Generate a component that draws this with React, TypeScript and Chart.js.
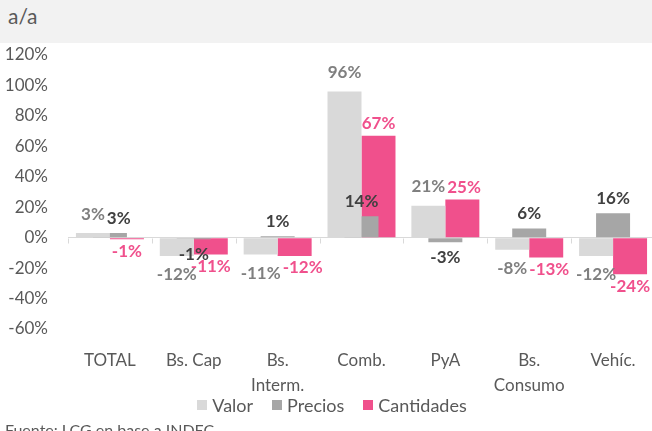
import React, { useEffect, useRef } from "react";
import { Chart, registerables } from "chart.js";

Chart.register(...registerables);

// ---- data ----
const categories: (string | string[])[] = [
  "TOTAL",
  "Bs. Cap",
  ["Bs.", "Interm."],
  "Comb.",
  "PyA",
  ["Bs.", "Consumo"],
  "Vehíc.",
];
const seriesNames = ["Valor", "Precios", "Cantidades"];
const valor = [3, -12, -11, 96, 21, -8, -12];
const precios = [3, -1, 1, 14, -3, 6, 16];
const cantidades = [-1, -11, -12, 67, 25, -13, -24];
const yMin = -60;
const yMax = 120;
const yStep = 20;
const headerText = "a/a";
const sourceText = "Fuente: LCG en base a INDEC";

// ---- styles ----
const FONT = "Lato, 'Open Sans', sans-serif";
const BAR_COLORS = ["#D9D9D9", "#A6A6A6", "#F0508C"];
const LABEL_COLORS = ["#7F7F7F", "#404040", "#F0508C"];
const LABEL_OFFSETS = [19, 15, 12];
const TEXT_COLOR = "#595959";

const barLabels = {
  id: "barLabels",
  afterDatasetsDraw(chart: any) {
    const ctx = chart.ctx;
    ctx.save();
    ctx.font = `bold 17px ${FONT}`;
    ctx.textAlign = "center";
    ctx.textBaseline = "middle";
    const n = chart.data.labels.length;
    for (let i = 0; i < n; i++) {
      const placed: { x: number; y: number; w: number }[] = [];
      chart.data.datasets.forEach((ds: any, di: number) => {
        const el = chart.getDatasetMeta(di).data[i];
        const v = ds.data[i];
        const text = `${v}%`;
        const w = ctx.measureText(text).width;
        const h = 16;
        const off = LABEL_OFFSETS[di];
        let x = el.x;
        const y = v >= 0 ? el.y - off : el.y + off;
        for (const p of placed) {
          const vOverlap = Math.min(y + h / 2, p.y + h / 2) - Math.max(y - h / 2, p.y - h / 2);
          if (vOverlap >= 8 && x - w / 2 < p.x + p.w / 2 + 2 && x + w / 2 > p.x - p.w / 2) {
            x = p.x + p.w / 2 + 2 + w / 2;
          }
        }
        ctx.fillStyle = LABEL_COLORS[di];
        ctx.fillText(text, x, y);
        placed.push({ x, y, w });
      });
    }
    ctx.restore();
  },
};

const boundaryTicks = {
  id: "boundaryTicks",
  beforeDatasetsDraw(chart: any) {
    const xs = chart.scales.x;
    const ys = chart.scales.y;
    const ctx = chart.ctx;
    const y0 = Math.round(ys.getPixelForValue(0)) + 0.5;
    const n = chart.data.labels.length;
    const step = n > 1 ? xs.getPixelForValue(1) - xs.getPixelForValue(0) : xs.width;
    ctx.save();
    ctx.strokeStyle = "#D9D9D9";
    ctx.lineWidth = 1;
    ctx.beginPath();
    for (let i = 0; i <= n; i++) {
      const x = Math.round(xs.getPixelForValue(0) - step / 2 + step * i) + 0.5;
      ctx.moveTo(x, y0);
      ctx.lineTo(x, y0 + 5);
    }
    ctx.stroke();
    ctx.restore();
  },
};

function ChartCanvas() {
  const ref = useRef<HTMLCanvasElement | null>(null);
  useEffect(() => {
    if (!ref.current) return;
    const series = [valor, precios, cantidades];
    const chart = new Chart(ref.current, {
      type: "bar",
      data: {
        labels: categories as any,
        datasets: series.map((d, i) => ({
          label: seriesNames[i],
          data: d,
          backgroundColor: BAR_COLORS[i],
          borderWidth: 0,
          categoryPercentage: 0.608,
          barPercentage: 2,
        })),
      },
      options: {
        animation: false,
        responsive: false,
        maintainAspectRatio: false,
        layout: { padding: { top: 12, right: 5, bottom: 22, left: 0 } },
        plugins: {
          legend: { display: false },
          tooltip: { enabled: false },
        },
        scales: {
          x: {
            grid: { display: false, drawTicks: false },
            border: { display: false },
            afterFit: (s: any) => {
              s.height = 80;
            },
            ticks: {
              color: TEXT_COLOR,
              font: { family: FONT, size: 17, lineHeight: 1.47 },
              padding: 19,
              maxRotation: 0,
              autoSkip: false,
            },
          },
          y: {
            min: yMin,
            max: yMax,
            afterFit: (s: any) => {
              s.width = 68;
              s.paddingTop = 0;
              s.paddingBottom = 0;
            },
            grid: {
              color: (c: any) => (c.tick && c.tick.value === 0 ? "#D9D9D9" : "rgba(0,0,0,0)"),
              drawTicks: false,
            },
            border: { display: false },
            ticks: {
              stepSize: yStep,
              color: TEXT_COLOR,
              font: { family: FONT, size: 17 },
              padding: 20,
              callback: (v: any) => `${v}%`,
            },
          },
        },
      },
      plugins: [boundaryTicks, barLabels],
    });
    return () => chart.destroy();
  }, []);
  return <canvas ref={ref} width={660} height={388} style={{ display: "block" }} />;
}

function Legend() {
  return (
    <div
      style={{
        position: "absolute",
        top: 393,
        left: 6,
        width: 652,
        height: 24,
        display: "flex",
        justifyContent: "center",
        alignItems: "center",
        fontSize: 18,
        color: TEXT_COLOR,
        whiteSpace: "nowrap",
      }}
    >
      {seriesNames.map((name, i) => (
        <div
          key={name}
          style={{ display: "flex", alignItems: "center", marginLeft: i === 0 ? 0 : 19 }}
        >
          <span
            style={{
              display: "inline-block",
              width: 10,
              height: 10,
              background: BAR_COLORS[i],
              marginRight: 5,
            }}
          />
          <span style={{ lineHeight: "24px" }}>{name}</span>
        </div>
      ))}
    </div>
  );
}

export default function App() {
  return (
    <div
      style={{
        position: "fixed",
        top: 0,
        left: 0,
        width: 652,
        height: 431,
        overflow: "hidden",
        background: "#FFFFFF",
        fontFamily: FONT,
      }}
    >
      <div
        style={{
          position: "absolute",
          top: 0,
          left: 0,
          width: 652,
          height: 43,
          background: "#F2F2F2",
        }}
      >
        <span
          style={{
            position: "absolute",
            left: 8,
            top: 2,
            fontSize: 21,
            lineHeight: "28px",
            color: TEXT_COLOR,
          }}
        >
          {headerText}
        </span>
      </div>
      <div style={{ position: "absolute", top: 43, left: 0 }}>
        <ChartCanvas />
      </div>
      <Legend />
      <div
        style={{
          position: "absolute",
          left: 5,
          top: 420,
          fontSize: 16,
          lineHeight: "20px",
          color: TEXT_COLOR,
          whiteSpace: "nowrap",
        }}
      >
        {sourceText}
      </div>
    </div>
  );
}
